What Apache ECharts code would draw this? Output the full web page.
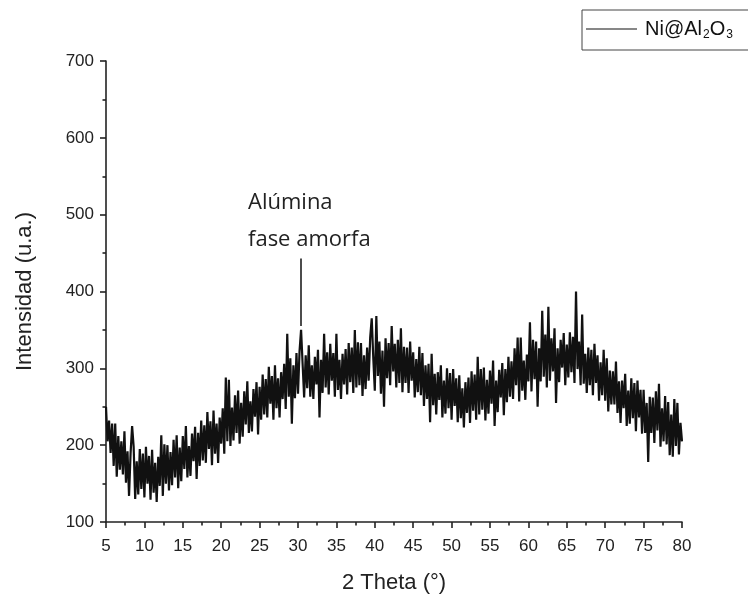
<!DOCTYPE html>
<html style="height: 100%">
<head>
	<meta charset="utf-8">
</head>
<body style="height: 100%; margin: 0; background: #fff">
<div id="container" style="width: 748px; height: 600px"></div>
<script type="text/javascript" src="https://cdn.jsdelivr.net/npm/echarts@6/dist/echarts.min.js"></script>
<script type="text/javascript">
    var dom = document.getElementById("container");
    var myChart = echarts.init(dom);

    // 2 theta scan: start and step (degrees)
    var thetaStart = 5;
    var thetaStep = 0.2;

    // intensity, 5 points per degree (5.0 ... 80.0)
    var intensity = [
        250, 205, 232, 190, 228,
        173, 228, 159, 212, 168,
        205, 162, 218, 151, 192,
        134, 189, 225, 198, 130,
        179, 136, 195, 143, 189,
        132, 198, 150, 186, 129,
        194, 138, 177, 126, 185,
        147, 213, 134, 201, 150,
        200, 141, 191, 148, 207,
        158, 213, 144, 197, 153,
        212, 169, 225, 158, 199,
        160, 215, 179, 224, 156,
        216, 173, 232, 180, 226,
        177, 243, 195, 231, 174,
        245, 189, 228, 177, 236,
        202, 248, 189, 288, 205,
        285, 199, 249, 206, 265,
        216, 271, 202, 255, 211,
        270, 227, 283, 216, 257,
        218, 273, 237, 282, 214,
        276, 233, 292, 240, 286,
        236, 302, 254, 290, 233,
        304, 248, 287, 236, 295,
        260, 306, 247, 345, 263,
        313, 228, 304, 261, 320,
        267, 322, 350, 306, 262,
        317, 274, 330, 263, 304,
        260, 315, 279, 324, 236,
        311, 268, 345, 275, 321,
        266, 332, 284, 320, 263,
        345, 272, 311, 260, 319,
        279, 325, 266, 333, 282,
        327, 268, 350, 275, 334,
        278, 333, 264, 317, 273,
        327, 284, 340, 365, 314,
        271, 368, 290, 335, 267,
        323, 250, 339, 287, 333,
        278, 355, 296, 332, 275,
        337, 281, 352, 269, 328,
        281, 327, 268, 335, 284,
        321, 262, 312, 269, 328,
        265, 320, 251, 304, 260,
        306, 230, 319, 252, 293,
        240, 295, 259, 304, 236,
        284, 241, 300, 248, 294,
        233, 299, 251, 287, 230,
        291, 235, 274, 223, 282,
        242, 288, 229, 296, 245,
        292, 233, 315, 240, 299,
        246, 301, 232, 285, 241,
        297, 254, 310, 225, 284,
        243, 298, 262, 307, 239,
        299, 256, 315, 263, 309,
        260, 326, 278, 340, 257,
        340, 271, 310, 259, 318,
        283, 360, 270, 337, 286,
        335, 250, 326, 283, 375,
        289, 344, 275, 380, 284,
        339, 296, 352, 255, 326,
        282, 337, 301, 346, 278,
        331, 288, 347, 295, 341,
        281, 400, 299, 335, 278,
        370, 280, 319, 268, 327,
        278, 324, 265, 332, 281,
        317, 258, 308, 265, 324,
        258, 313, 244, 297, 253,
        296, 253, 309, 242, 283,
        229, 284, 248, 293, 225,
        271, 228, 287, 235, 281,
        218, 284, 236, 272, 215,
        272, 216, 255, 178, 263,
        216, 262, 203, 270, 219,
        280, 198, 248, 205, 264,
        201, 256, 187, 240, 185,
        260, 199, 255, 188, 229,
        205
    ];

    var xTicks = [5, 80, 5];      // min, max, interval
    var yTicks = [100, 700, 100];

    // annotation: amorphous alumina marker
    var markerTheta = 30.4;
    var markerRange = [355, 443];

    var seriesData = [];
    for (var i = 0; i < intensity.length; i++) {
        seriesData.push([+(thetaStart + i * thetaStep).toFixed(2), intensity[i]]);
    }

    var axisFont = {fontFamily: 'Liberation Sans', fontSize: 17, color: '#222'};

    var option = {
        backgroundColor: '#fff',
        animation: false,
        grid: {left: 106, right: 66, top: 61, bottom: 78},
        legend: {
            left: 582,
            top: 10,
            padding: [9, 40, 9, 4],
            borderColor: '#444',
            borderWidth: 1,
            borderRadius: 0,
            itemWidth: 51,
            itemHeight: 1.2,
            data: [{name: 'Ni@Al2O3', icon: 'rect'}],
            formatter: function () {
                return 'Ni@Al{sub|2}O{sub|3}';
            },
            textStyle: {
                fontFamily: 'Liberation Sans',
                fontSize: 20,
                color: '#111',
                padding: [0, 0, 0, 3],
                rich: {
                    sub: {fontFamily: 'Liberation Sans', fontSize: 12, color: '#111', padding: [12, 0, 0, 1]}
                }
            }
        },
        xAxis: {
            type: 'value',
            min: xTicks[0],
            max: xTicks[1],
            interval: xTicks[2],
            name: '2 Theta (°)',
            nameLocation: 'middle',
            nameGap: 50,
            nameTextStyle: {fontFamily: 'Liberation Sans', fontSize: 22, color: '#222'},
            axisLine: {lineStyle: {color: '#222', width: 1.6}},
            axisTick: {length: 6, lineStyle: {color: '#222', width: 1.6}},
            minorTick: {show: true, splitNumber: 2, length: 3.5, lineStyle: {color: '#222', width: 1.6}},
            axisLabel: Object.assign({margin: 16}, axisFont),
            splitLine: {show: false}
        },
        yAxis: {
            type: 'value',
            min: yTicks[0],
            max: yTicks[1],
            interval: yTicks[2],
            name: 'Intensidad (u.a.)',
            nameLocation: 'middle',
            nameGap: 70,
            nameTextStyle: {fontFamily: 'Liberation Sans', fontSize: 22, color: '#222'},
            axisLine: {show: true, lineStyle: {color: '#222', width: 1.6}},
            axisTick: {show: true, length: 6, lineStyle: {color: '#222', width: 1.6}},
            minorTick: {show: true, splitNumber: 2, length: 3.5, lineStyle: {color: '#222', width: 1.6}},
            axisLabel: Object.assign({margin: 12}, axisFont),
            splitLine: {show: false}
        },
        series: [{
            name: 'Ni@Al2O3',
            type: 'line',
            symbol: 'none',
            data: seriesData,
            lineStyle: {color: '#111', width: 2.2},
            itemStyle: {color: '#111'},
            markLine: {
                silent: true,
                symbol: 'none',
                label: {show: false},
                lineStyle: {color: '#111', width: 1.5, type: 'solid'},
                data: [[
                    {coord: [markerTheta, markerRange[0]]},
                    {coord: [markerTheta, markerRange[1]]}
                ]]
            }
        }],
        graphic: [{
            type: 'text',
            left: 248,
            top: 184,
            style: {
                text: 'Alúmina\nfase amorfa',
                font: '22px "Open Sans"',
                lineHeight: 37,
                fill: '#222'
            }
        }]
    };

    myChart.setOption(option, true);
</script>
</body>
</html>
